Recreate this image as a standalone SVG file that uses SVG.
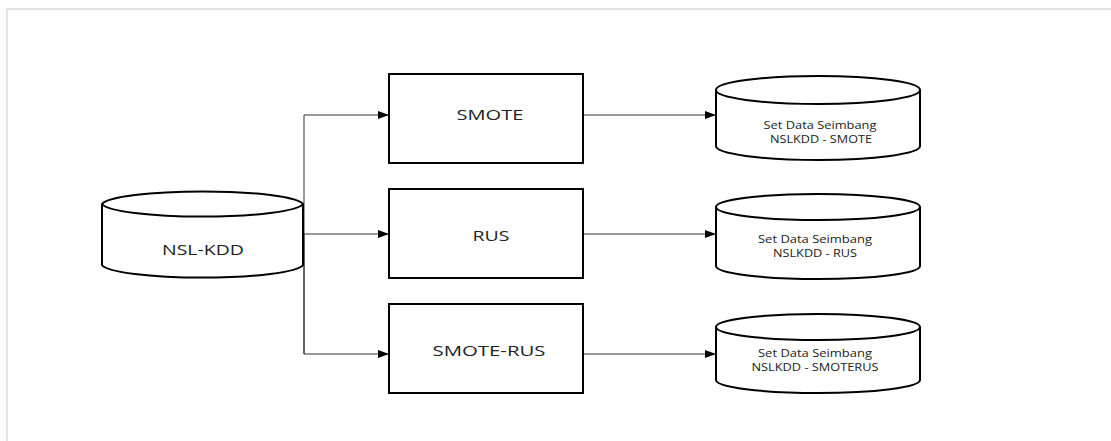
<svg xmlns="http://www.w3.org/2000/svg" width="1111" height="441" viewBox="0 0 1111 441">
  <style>
    .frame { fill: none; stroke: #e4e4e4; stroke-width: 2; }
    .shape { fill: #ffffff; stroke: #000000; stroke-width: 2; }
    .rim { fill: none; stroke: #000000; stroke-width: 2; }
    .link { fill: none; stroke: #333333; stroke-width: 1; }
    .big { font-family: "Open Sans", "DejaVu Sans", sans-serif; font-size: 15px; fill: #222222; text-anchor: middle; }
    .small { font-family: "Open Sans", "DejaVu Sans", sans-serif; font-size: 10px; fill: #222222; text-anchor: middle; }
  </style>
  <defs>
    <marker id="arrow" viewBox="0 0 11 8" refX="11" refY="4" markerWidth="11" markerHeight="8" markerUnits="userSpaceOnUse" orient="auto">
      <path d="M0,0 L11,4 L0,8 Z" fill="#000000"/>
    </marker>
  </defs>

  <rect width="1111" height="441" fill="#ffffff"/>
  <!-- page frame -->
  <path class="frame" d="M7,441 L7,9 L1111,9"/>

  <!-- connectors -->
  <g id="connectors">
    <path class="link" d="M304,234 L389,234" marker-end="url(#arrow)"/>
    <path class="link" d="M304,354 L304,115 L389,115" marker-end="url(#arrow)"/>
    <path class="link" d="M304,234 L304,354 L389,354" marker-end="url(#arrow)"/>
    <path class="link" d="M583,115 L716,115" marker-end="url(#arrow)"/>
    <path class="link" d="M583,234 L716,234" marker-end="url(#arrow)"/>
    <path class="link" d="M583,354 L716,354" marker-end="url(#arrow)"/>
  </g>

  <!-- source dataset -->
  <g id="nsl-kdd">
    <path class="shape" d="M102,204 L102,265 A101,14 0 0 0 303,265 L303,204 A101,14 0 0 0 102,204 Z"/>
    <path class="rim" d="M102,204 A101,14 0 0 0 303,204"/>
    <text class="big" x="203" y="255" textLength="82" lengthAdjust="spacingAndGlyphs">NSL-KDD</text>
  </g>

  <!-- balancing methods -->
  <g id="smote">
    <rect class="shape" x="389" y="74" width="194" height="89"/>
    <text class="big" x="490" y="120" textLength="67" lengthAdjust="spacingAndGlyphs">SMOTE</text>
  </g>
  <g id="rus">
    <rect class="shape" x="389" y="189" width="194" height="89"/>
    <text class="big" x="491" y="241" textLength="37" lengthAdjust="spacingAndGlyphs">RUS</text>
  </g>
  <g id="smote-rus">
    <rect class="shape" x="389" y="304" width="194" height="89"/>
    <text class="big" x="489" y="356" textLength="113" lengthAdjust="spacingAndGlyphs">SMOTE-RUS</text>
  </g>

  <!-- balanced datasets -->
  <g id="set-smote">
    <path class="shape" d="M716,90 L716,146 A102,14 0 0 0 920,146 L920,90 A102,14 0 0 0 716,90 Z"/>
    <path class="rim" d="M716,90 A102,14 0 0 0 920,90"/>
    <text class="small" x="820" y="129" textLength="113" lengthAdjust="spacingAndGlyphs">Set Data Seimbang</text>
    <text class="small" x="821" y="143" textLength="102" lengthAdjust="spacingAndGlyphs">NSLKDD - SMOTE</text>
  </g>
  <g id="set-rus">
    <path class="shape" d="M716,207 L716,266 A102,13 0 0 0 920,266 L920,207 A102,13 0 0 0 716,207 Z"/>
    <path class="rim" d="M716,207 A102,13 0 0 0 920,207"/>
    <text class="small" x="815" y="243" textLength="114" lengthAdjust="spacingAndGlyphs">Set Data Seimbang</text>
    <text class="small" x="815" y="257" textLength="84" lengthAdjust="spacingAndGlyphs">NSLKDD - RUS</text>
  </g>
  <g id="set-smoterus">
    <path class="shape" d="M716,327 L716,380 A102,13 0 0 0 920,380 L920,327 A102,13 0 0 0 716,327 Z"/>
    <path class="rim" d="M716,327 A102,13 0 0 0 920,327"/>
    <text class="small" x="815" y="357" textLength="114" lengthAdjust="spacingAndGlyphs">Set Data Seimbang</text>
    <text class="small" x="815" y="371" textLength="127" lengthAdjust="spacingAndGlyphs">NSLKDD - SMOTERUS</text>
  </g>
</svg>
